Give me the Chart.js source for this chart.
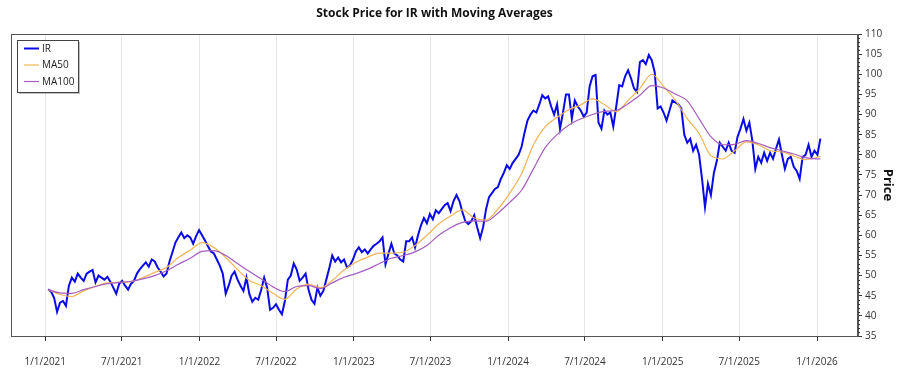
<!DOCTYPE html>
<html>
<head>
<meta charset="utf-8">
<script src="https://cdn.jsdelivr.net/npm/chart.js@4.4.1/dist/chart.umd.min.js"></script>
<style>
  html, body { margin: 0; padding: 0; background: #fff; }
  #chart { display: block; }
</style>
</head>
<body>
<canvas id="chart" width="900" height="375"></canvas>
<script>
// weekly closes, first week ends 2021-01-08
var startDate = '2021-01-08';
var irClose = [
  46.6, 46.0, 44.5, 41.0, 43.3, 43.7, 42.5, 47.5, 49.5, 48.5, 50.5, 49.5, 48.7, 50.5, 51.0, 51.4, 48.3, 50.0, 49.5, 49.0,
  49.7, 48.5, 47.0, 45.5, 48.0, 48.7, 47.5, 46.5, 48.0, 48.7, 50.5,
  51.6, 52.5, 53.3, 52.2, 54.0, 53.5, 52.0, 51.0, 49.8, 50.5,
  53.5, 55.8, 58.2, 59.5, 60.7, 59.3, 60.0, 59.5, 57.9, 59.8,
  61.3, 60.0, 58.7, 57.3, 56.0, 55.5, 54.0, 52.5, 50.5, 45.5,
  47.5, 50.0, 51.0, 49.0, 47.5, 46.2, 49.5, 45.4, 43.5, 44.5,
  44.0, 46.5, 49.5, 47.0, 41.5, 42.0, 42.9, 41.5, 40.4, 43.7,
  49.0, 50.0, 53.0, 51.5, 48.7,
  49.5, 50.5, 46.5, 44.0, 43.0, 47.0, 45.0, 46.2, 49.0, 51.8,
  55.0, 53.5, 54.5, 53.3, 54.0, 52.0, 52.5, 54.0, 56.0, 57.0,
  55.8, 56.5, 55.5, 56.5, 57.4, 57.9, 58.5, 59.5, 52.8, 55.4,
  57.9, 55.5, 55.0, 54.0, 53.5, 58.5, 58.5, 59.5, 57.0, 60.0,
  62.5, 64.3, 63.0, 65.3, 64.0, 66.2, 65.5,
  66.5, 67.5, 68.0, 66.0, 68.5, 70.0, 68.5, 65.8, 63.5, 62.8,
  63.5, 65.0, 62.0, 59.3, 62.0, 66.5, 69.5, 70.5, 71.5, 72.0,
  74.0, 75.5, 77.4, 76.5, 78.0, 79.0, 80.0, 82.0, 85.5, 88.5,
  90.0, 91.0, 90.5, 92.5, 94.8, 94.0, 94.5, 92.0, 90.0, 92.5,
  86.5, 90.5, 95.0,
  95.0, 89.0, 93.5, 92.0, 91.0, 89.5, 90.5, 97.0, 99.5, 99.8,
  88.0, 86.5, 91.0, 90.0, 90.5, 87.0, 92.0, 97.3, 97.0, 99.5,
  101.0, 99.0, 96.5, 95.6, 103.0, 103.5, 102.5, 104.8, 103.5, 100.5,
  91.5, 92.0, 90.5, 88.5, 91.0, 93.5, 93.0, 92.5, 91.5, 85.0,
  83.0, 84.0, 81.0, 82.5, 80.0,
  74.0, 67.0, 72.8, 70.0, 75.5, 78.5, 83.0, 82.0, 81.0, 83.0,
  81.0, 80.5, 84.5, 86.5, 88.9, 86.0, 88.0, 83.5, 76.5, 79.5,
  78.0, 80.5, 78.5, 80.5, 79.0, 81.5, 83.8, 80.0, 76.5, 79.0,
  79.5, 77.0, 76.0, 74.0, 79.5, 80.0, 82.5, 79.5, 81.0, 80.0,
  84.0
];

// moving averages read every 4 weeks (week index below)
var maWeeks = [];
for (var k = 0; k <= 260; k += 4) maWeeks.push(k);
maWeeks.push(261);

var ma50 = [
  46.5, 45.3, 44.8, 46.2, 47.3, 48.2, 48.3, 48.5, 49.5, 50.8,
  52.0, 54.5, 56.3, 58.2, 57.0, 54.5, 51.5, 48.8, 47.5, 45.6,
  44.1, 46.7, 47.9, 47.0, 48.8, 51.4, 53.3, 54.6, 55.6, 55.6,
  55.8, 57.5, 60.0, 62.8, 64.8, 66.3, 64.3, 63.8, 66.5, 70.5,
  75.3, 82.5, 87.0, 89.3, 91.2, 92.4, 93.9, 92.5, 90.7, 93.5,
  96.5, 100.0, 97.0, 93.5, 89.0, 85.3, 79.8, 79.0, 81.0, 83.2,
  82.5, 81.0, 80.7, 79.7, 78.8, 79.4, 79.6
];
var ma100 = [
  46.5, 45.7, 45.6, 46.5, 47.3, 48.0, 48.3, 48.6, 49.2, 50.0,
  51.2, 52.8, 54.3, 56.0, 56.2, 55.0, 53.0, 51.0, 49.2, 47.2,
  46.0, 47.3, 47.5, 46.8, 48.2, 49.6, 50.5, 51.6, 53.0, 54.3,
  55.0, 55.9, 57.5, 60.0, 61.9, 63.2, 63.6, 63.5, 65.5, 68.2,
  71.2, 76.5, 81.8, 85.0, 87.4, 88.9, 90.0, 90.8, 91.0, 92.7,
  94.8, 97.2, 96.6, 95.1, 93.4, 89.0, 84.5, 82.5, 82.6, 83.5,
  82.8, 81.8, 81.0, 80.2, 79.3, 79.0, 79.0
];

var xTickLabels = ['1/1/2021', '7/1/2021', '1/1/2022', '7/1/2022', '1/1/2023', '7/1/2023',
                   '1/1/2024', '7/1/2024', '1/1/2025', '7/1/2025', '1/1/2026'];
var xMin = '2020-10-12';
var xMax = '2026-04-08';

var DAY = 86400000;
function parseUS(s) {
  var p = s.split('/');
  return Date.UTC(+p[2], +p[0] - 1, +p[1]);
}
function fmtUS(t) {
  var d = new Date(t);
  return (d.getUTCMonth() + 1) + '/' + d.getUTCDate() + '/' + d.getUTCFullYear();
}
var t0 = Date.parse(startDate);
var irPoints = irClose.map(function (v, i) { return { x: t0 + i * 7 * DAY, y: v }; });
var ma50Points = ma50.map(function (v, k) { return { x: t0 + maWeeks[k] * 7 * DAY, y: v }; });
var ma100Points = ma100.map(function (v, k) { return { x: t0 + maWeeks[k] * 7 * DAY, y: v }; });

var FONT = "'Segoe UI', 'Open Sans', sans-serif";
var colors = { ir: '#0a0ae6', ma50: '#f2b455', ma100: '#a65cbf' };

var frame = {
  id: 'frame',
  afterDraw: function (chart) {
    var ctx = chart.ctx, a = chart.chartArea, y = chart.scales.y;
    ctx.save();
    // box round the plot
    ctx.strokeStyle = '#555';
    ctx.lineWidth = 1;
    ctx.strokeRect(Math.round(a.left) + 0.5, Math.round(a.top) + 0.5,
                   Math.round(a.width) - 1, Math.round(a.height));
    // minor ticks on the price axis
    ctx.strokeStyle = '#333';
    ctx.beginPath();
    for (var v = 35; v <= 110; v++) {
      if (v % 5 === 0) continue;
      var py = Math.round(y.getPixelForValue(v)) + 0.5;
      ctx.moveTo(a.right, py);
      ctx.lineTo(a.right + 2, py);
    }
    ctx.stroke();

    // title
    ctx.fillStyle = '#111';
    ctx.font = 'bold 12px ' + FONT;
    ctx.textAlign = 'center';
    ctx.textBaseline = 'middle';
    ctx.fillText('Stock Price for IR with Moving Averages', (a.left + a.right) / 2, 14);

    // legend
    var lx = 17, ly = 40, lw = 61, lh = 52;
    ctx.fillStyle = 'rgba(0,0,0,0.25)';
    ctx.fillRect(lx + 2, ly + 2, lw, lh);
    ctx.fillStyle = '#fff';
    ctx.fillRect(lx, ly, lw, lh);
    ctx.strokeStyle = '#444';
    ctx.strokeRect(lx + 0.5, ly + 0.5, lw, lh);
    var items = [['IR', colors.ir, 2], ['MA50', colors.ma50, 1.2], ['MA100', colors.ma100, 1.2]];
    ctx.font = '10px ' + FONT;
    ctx.textAlign = 'left';
    items.forEach(function (it, i) {
      var cy = 48.5 + i * 16.5;
      ctx.strokeStyle = it[1];
      ctx.lineWidth = it[2];
      ctx.beginPath();
      ctx.moveTo(24, cy);
      ctx.lineTo(39, cy);
      ctx.stroke();
      ctx.fillStyle = '#222';
      ctx.fillText(it[0], 42, cy + 0.5);
    });
    ctx.restore();
  }
};

new Chart(document.getElementById('chart').getContext('2d'), {
  type: 'line',
  data: {
    datasets: [
      { label: 'IR', data: irPoints, borderColor: colors.ir, borderWidth: 2, pointRadius: 0, order: 2 },
      { label: 'MA50', data: ma50Points, borderColor: colors.ma50, borderWidth: 1.2, pointRadius: 0, order: 1, cubicInterpolationMode: 'monotone' },
      { label: 'MA100', data: ma100Points, borderColor: colors.ma100, borderWidth: 1.2, pointRadius: 0, order: 0, cubicInterpolationMode: 'monotone' }
    ]
  },
  options: {
    responsive: false,
    animation: false,
    devicePixelRatio: 1,
    layout: { padding: { top: 34, left: 11, right: 0, bottom: 0 } },
    plugins: { legend: { display: false }, title: { display: false }, tooltip: { enabled: false } },
    scales: {
      x: {
        type: 'linear',
        min: Date.parse(xMin),
        max: Date.parse(xMax),
        afterBuildTicks: function (scale) {
          scale.ticks = xTickLabels.map(function (s) { return { value: parseUS(s) }; });
        },
        afterFit: function (scale) { scale.height = 39; },
        grid: { color: '#e6e6e6', tickColor: '#333', tickLength: 5 },
        border: { color: '#555' },
        ticks: {
          autoSkip: false, maxRotation: 0, padding: 15,
          color: '#333', font: { family: FONT, size: 10 },
          callback: function (v) { return fmtUS(v); }
        }
      },
      y: {
        position: 'right',
        min: 35, max: 110,
        afterFit: function (scale) { scale.width = 42; },
        grid: { drawOnChartArea: false, tickColor: '#333', tickLength: 4 },
        border: { color: '#555' },
        ticks: { stepSize: 5, padding: 3, color: '#333', font: { family: FONT, size: 10 } },
        title: { display: true, text: 'Price', color: '#111', padding: { top: 4, bottom: 0 },
                 font: { family: FONT, size: 13, weight: 'bold' } }
      }
    }
  },
  plugins: [frame]
});
</script>
</body>
</html>
